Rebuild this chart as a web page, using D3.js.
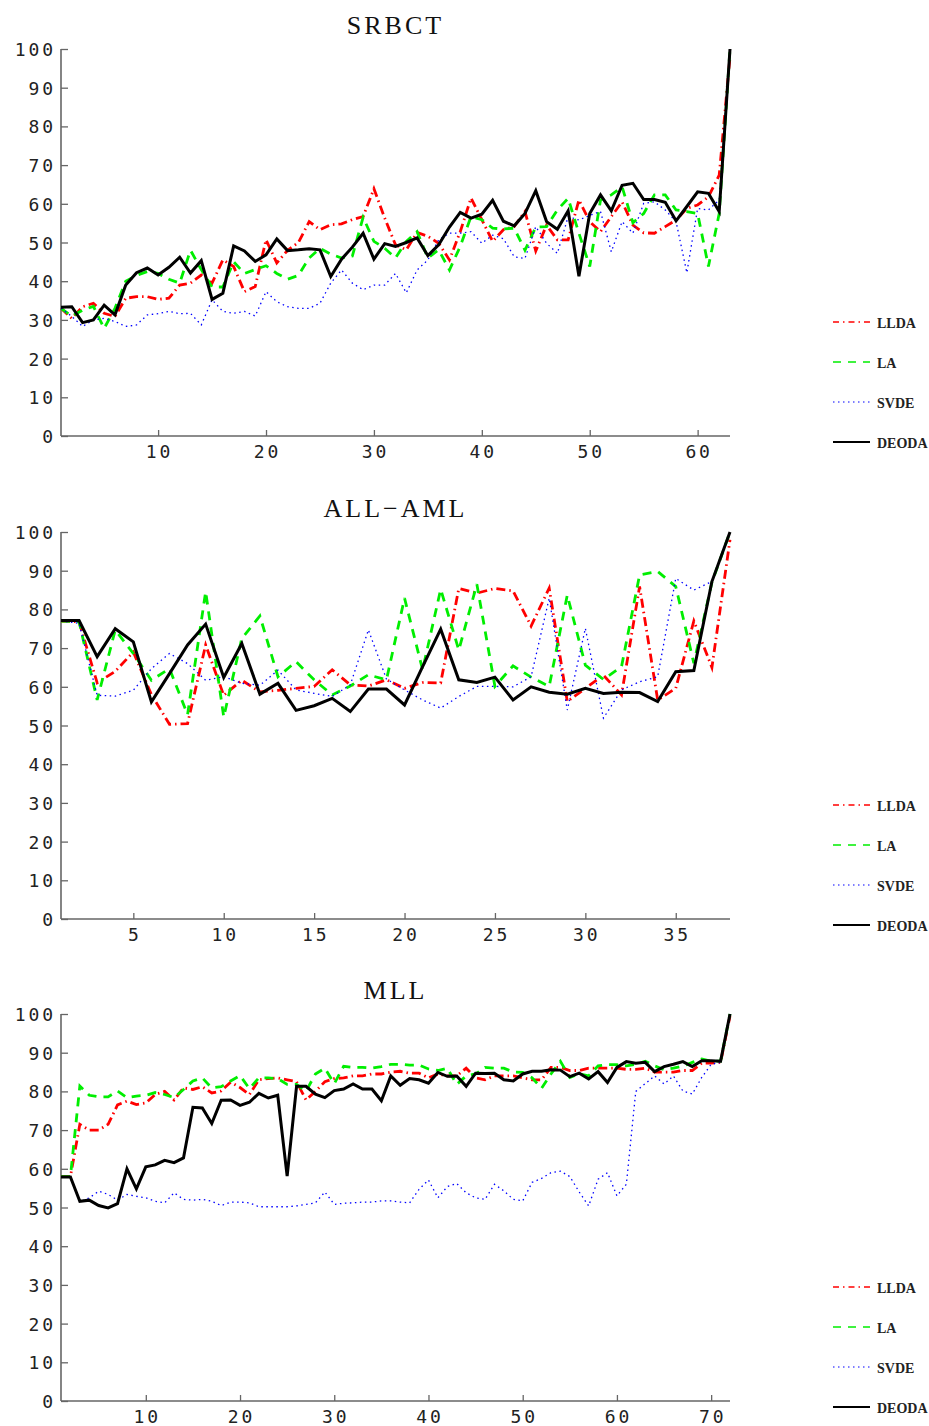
<!DOCTYPE html>
<html>
<head>
<meta charset="utf-8">
<script src="https://cdn.jsdelivr.net/npm/d3@7"></script>
<style>
  html, body { margin: 0; padding: 0; background: #fff; }
  svg { display: block; }
</style>
</head>
<body>
<svg id="chart" width="929" height="1426"></svg>
<script>
// ---- data ----------------------------------------------------------------
const seriesNames = ["LLDA", "LA", "SVDE", "DEODA"];

const srbctTicks = [10, 20, 30, 40, 50, 60];
const srbctLLDA = [33, 30.4, 33.4, 34.3, 31.7, 30.9, 35.6, 36, 36, 35.3, 35.6, 39, 39.5, 41.6, 39.5, 45.5, 43.8, 37.3, 38.6, 50.7,
  44.7, 48, 50, 55.4, 53.3, 54.6, 54.8, 55.9, 56.7, 63.9, 56.3, 49.4, 48.1, 52.6, 51.6, 49.8, 45.5, 52.8, 61.5, 55.9,
  50.3, 53.3, 54.1, 58, 47.8, 54.5, 50.7, 50.7, 61, 55.4, 52.8, 56.7, 60.5, 54.5, 52.5, 52.4, 54.1, 55.8, 58.8, 59.7,
  61.8, 67.4, 98];
const srbctLA = [33, 31, 32.5, 33.5, 27.8, 33, 40, 41.5, 42.5, 42, 40.5, 39.5, 48, 43, 38.5, 38.5, 45, 42, 43, 44,
  42, 40.5, 41.5, 46, 48.5, 47, 46, 46.5, 56.5, 50.3, 48.5, 46, 50.3, 52.8, 46, 48.1, 42.9, 49, 56.7, 55.9,
  53.7, 53.5, 53.7, 48, 54, 54.1, 58.4, 61.4, 52.4, 43.8, 61, 62.3, 64.4, 55.1, 57.5, 62.3, 62.3, 58.4, 58, 57.5,
  43.8, 57.5, 100];
const srbctSVDE = [33, 30.9, 28.3, 30, 30.4, 29.6, 28.3, 28.7, 31.3, 31.6, 32.2, 31.6, 31.7, 28.7, 35.2, 32.2, 31.7, 32.2, 31, 37.3,
  34.7, 33.4, 33, 33, 34.3, 39.5, 42.9, 39.5, 37.8, 39, 39, 42, 37, 42.9, 45.5, 50.7, 52.4, 52.4, 52.8, 49.8,
  51.9, 51, 46.3, 45.9, 54.1, 49.8, 47.2, 56.7, 55.8, 57, 58, 47.6, 55.4, 52.4, 60.1, 60.5, 58.4, 55.4, 42.2, 58.8,
  58.4, 61, 100];
const srbctDEODA = [33.3, 33.4, 29.3, 30, 33.8, 31.3, 39, 42.2, 43.4, 41.6, 43.6, 46.2, 42.1, 45.3, 35.3, 36.9, 49.1, 47.8, 45.1, 46.8,
  50.9, 47.9, 48.1, 48.4, 48.1, 41.2, 45.7, 48.8, 52.4, 45.7, 49.7, 49, 50, 51.2, 46.6, 49.4, 54, 57.8, 56.3, 57.3,
  60.9, 55.5, 54.3, 57.5, 63.4, 55.4, 53.4, 58.2, 41.3, 57.5, 62.3, 58.2, 64.8, 65.3, 61.1, 61.1, 60.4, 55.6, 59.3, 63.1,
  62.7, 58, 100];

const allAmlTicks = [5, 10, 15, 20, 25, 30, 35];
const allAmlLLDA = [77, 76.8, 61, 64, 69, 58, 50.3, 50.5, 70.8, 57.8, 61.7, 58.7, 59.1, 59.6, 60.1, 64.4, 60.5, 60.2, 61.8, 59.6,
  61.1, 61, 85.4, 84.2, 85.4, 84.8, 75.7, 85.5, 56.2, 59.6, 63, 57.9, 85.9, 56.6, 59.6, 77, 65, 98];
const allAmlLA = [77, 76.8, 56.6, 74.7, 68.6, 61.7, 64.7, 52.8, 84.6, 52.2, 72.5, 78.3, 62.6, 66.5, 61.8, 57.9, 60.2, 63.1, 61.8, 82.9,
  64.4, 85.2, 69.5, 86.5, 60.1, 65.4, 62.5, 60.1, 83.7, 65.6, 61.9, 65.2, 88.9, 89.8, 85.9, 66.1, 87, 100];
const allAmlSVDE = [77, 76.4, 57.8, 57.6, 59.1, 64.7, 68.6, 66, 61.7, 62.6, 60.9, 60.4, 64.3, 59.2, 58.3, 57.5, 60.5, 74.7, 62, 59.2,
  56.6, 54.5, 57.5, 60.1, 60.1, 60, 62.6, 82.9, 54, 75.1, 51.9, 59.2, 61.3, 62.6, 88, 85, 87.2, 100];
const allAmlDEODA = [77.1, 77.1, 67.8, 75, 71.6, 56.1, 63.4, 70.8, 76.2, 62.4, 71.2, 58.1, 60.9, 53.9, 55.1, 57, 53.6, 59.4, 59.4, 55.3,
  65.2, 74.9, 61.8, 61.1, 62.5, 56.6, 60, 58.6, 58.1, 59.6, 58.3, 58.6, 58.5, 56.2, 63.9, 64.2, 87.2, 100];

const mllTicks = [10, 20, 30, 40, 50, 60, 70];
const mllLLDA = [58, 58, 71.5, 70, 70, 71.5, 76.5, 77.5, 76.6, 77, 79.2, 80, 77.8, 80.9, 80.5, 81.2, 79.6, 80.1, 82.4, 81,
  79.2, 83, 83.3, 83.5, 83, 82.5, 77.8, 80, 82.5, 83.3, 83.5, 84, 84, 84.5, 84.5, 85, 85.2, 84.7, 84.7, 83.5,
  84.5, 84, 84, 86, 83.5, 83, 84, 84, 84, 83.5, 83, 83, 86.2, 86.2, 85.4, 85.4, 86, 86, 86, 86,
  85.7, 85.7, 86, 85, 85, 85, 85.4, 85.4, 87.3, 87.3, 87.5, 99.5];
const mllLA = [58, 58, 81.4, 79, 78.6, 78.6, 80.1, 78.4, 78.8, 79, 79.7, 79.2, 78.4, 80.5, 82.7, 83.5, 80.9, 81.2, 82.7, 84.1,
  80.7, 83.5, 83.5, 83.3, 81.8, 81.8, 80, 84.5, 86, 82, 86.5, 86.2, 86.2, 86, 86.4, 87, 87, 86.8, 86.8, 85.8,
  85.4, 86, 81.8, 84, 84.5, 86.2, 86, 86, 85, 84.9, 83.5, 80.8, 84.5, 87.8, 83.6, 84.5, 84, 86.6, 86.9, 86.9,
  86.6, 87, 87.8, 86.6, 85.6, 86, 86.5, 87.5, 88.4, 87.8, 87.8, 100];
const mllSVDE = [58, 58, 51.4, 52.5, 54.2, 53.4, 51.9, 53.4, 52.9, 52.5, 51.6, 51.2, 53.8, 52.1, 51.9, 52.1, 51.6, 50.5, 51.4, 51.4,
  51.2, 50.2, 50.2, 50.2, 50.2, 50.4, 50.8, 51.2, 54, 50.8, 51.1, 51.2, 51.4, 51.4, 51.7, 51.7, 51.4, 51.2, 54.7, 57.1,
  52.5, 55.4, 56.2, 53.8, 52.5, 52.1, 56, 54.3, 52.1, 51.7, 56.5, 57.5, 59, 59.4, 58, 54, 50.4, 57.3, 59, 53,
  56, 80, 82, 84, 81.9, 84, 80.1, 79.3, 83.6, 87, 87.5, 100];
const mllDEODA = [57.9, 57.9, 51.6, 51.9, 50.5, 49.9, 51, 60, 54.8, 60.5, 61, 62.2, 61.6, 62.8, 75.9, 75.7, 71.7, 77.7, 77.8, 76.4,
  77.2, 79.5, 78.3, 79, 58.1, 81.3, 81.3, 79.3, 78.4, 80.2, 80.6, 81.9, 80.6, 80.6, 77.6, 84, 81.6, 83.3, 83, 82.1,
  84.9, 83.9, 84, 81.3, 84.7, 84.6, 84.7, 83, 82.7, 84.5, 85.2, 85.2, 85.6, 85.5, 83.8, 84.7, 83.2, 85.1, 82.3, 86.2,
  87.7, 87.3, 87.5, 85.1, 86.4, 87, 87.7, 86.4, 87.9, 87.9, 87.8, 100];

const yTicks = [0, 10, 20, 30, 40, 50, 60, 70, 80, 90, 100];

const panels = [
  { title: "SRBCT", ticks: srbctTicks, series: [srbctLLDA, srbctLA, srbctSVDE, srbctDEODA] },
  { title: "ALL\u2212AML", ticks: allAmlTicks, series: [allAmlLLDA, allAmlLA, allAmlSVDE, allAmlDEODA] },
  { title: "MLL", ticks: mllTicks, series: [mllLLDA, mllLA, mllSVDE, mllDEODA] }
];

// ---- styling -------------------------------------------------------------
const styles = [
  { color: "#ff0000", width: 2.8, dash: "9,4,1.5,4", legendDash: "6,4,1.5,4", legendWidth: 1.4 },
  { color: "#00ee00", width: 2.8, dash: "9,7", legendDash: "8,7", legendWidth: 1.4 },
  { color: "#0000ff", width: 1.3, dash: "1.5,3.5", legendDash: "1.5,3.5", legendWidth: 1.2 },
  { color: "#000000", width: 3, dash: null, legendDash: null, legendWidth: 2 }
];

const svg = d3.select("#chart");
const plotLeft = 61, plotRight = 730, plotHeight = 387;
const baselines = [436, 919, 1401];
const axisColor = "#666";
const tickFont = "'DejaVu Sans Mono', monospace";

panels.forEach((panel, pi) => {
  const y0 = baselines[pi];
  const n = panel.series[0].length;
  const x = d3.scaleLinear().domain([1, n]).range([plotLeft, plotRight]);
  const y = d3.scaleLinear().domain([0, 100]).range([y0, y0 - plotHeight]);
  const g = svg.append("g");

  // title
  g.append("text")
    .attr("x", (plotLeft + plotRight) / 2)
    .attr("y", y(100) - 15)
    .attr("text-anchor", "middle")
    .attr("font-family", "'Liberation Serif', 'Times New Roman', serif")
    .attr("font-size", 26)
    .attr("letter-spacing", 3)
    .attr("fill", "#111")
    .text(panel.title);

  // y axis (ticks point inward)
  const yAxis = d3.axisRight(y).tickValues(yTicks).tickSize(7).tickFormat("");
  const ya = g.append("g").attr("transform", `translate(${plotLeft},0)`).call(yAxis);
  ya.select(".domain").attr("stroke", axisColor).attr("stroke-width", 1.6).attr("d", `M0,${y(0)}V${y(100)}`);
  ya.selectAll(".tick line").attr("stroke", axisColor).attr("stroke-width", 1.3);

  g.selectAll(".ylab").data(yTicks).enter().append("text")
    .attr("x", 56)
    .attr("y", d => y(d) + 7)
    .attr("text-anchor", "end")
    .attr("font-family", tickFont)
    .attr("font-size", 18)
    .attr("letter-spacing", 2.9)
    .attr("fill", "#222")
    .text(d => d);

  // x axis (ticks point inward)
  const xAxis = d3.axisTop(x).tickValues(panel.ticks).tickSize(6).tickFormat("");
  const xa = g.append("g").attr("transform", `translate(0,${y0})`).call(xAxis);
  xa.select(".domain").attr("stroke", axisColor).attr("stroke-width", 1.6).attr("d", `M${plotLeft},0H${plotRight}`);
  xa.selectAll(".tick line").attr("stroke", axisColor).attr("stroke-width", 1.3);

  g.selectAll(".xlab").data(panel.ticks).enter().append("text")
    .attr("x", d => x(d) + 1.5)
    .attr("y", y0 + 22)
    .attr("text-anchor", "middle")
    .attr("font-family", tickFont)
    .attr("font-size", 18)
    .attr("letter-spacing", 2.9)
    .attr("fill", "#222")
    .text(d => d);

  // series lines
  const line = d3.line().x((d, i) => x(i + 1)).y(d => y(d));
  panel.series.forEach((vals, si) => {
    const st = styles[si];
    g.append("path")
      .datum(vals)
      .attr("d", line)
      .attr("fill", "none")
      .attr("stroke", st.color)
      .attr("stroke-width", st.width)
      .attr("stroke-linejoin", "miter")
      .attr("stroke-dasharray", st.dash);
  });

  // legend
  const legTop = y0 - 114;
  seriesNames.forEach((name, si) => {
    const st = styles[si];
    const ly = legTop + si * 40;
    g.append("line")
      .attr("x1", 833).attr("x2", 870)
      .attr("y1", ly).attr("y2", ly)
      .attr("stroke", st.color)
      .attr("stroke-width", st.legendWidth)
      .attr("stroke-dasharray", st.legendDash);
    g.append("text")
      .attr("x", 877)
      .attr("y", ly + 6)
      .attr("font-family", "'Liberation Serif', 'Times New Roman', serif")
      .attr("font-weight", "bold")
      .attr("font-size", 14)
      .attr("fill", "#222")
      .text(name);
  });
});
</script>
</body>
</html>
